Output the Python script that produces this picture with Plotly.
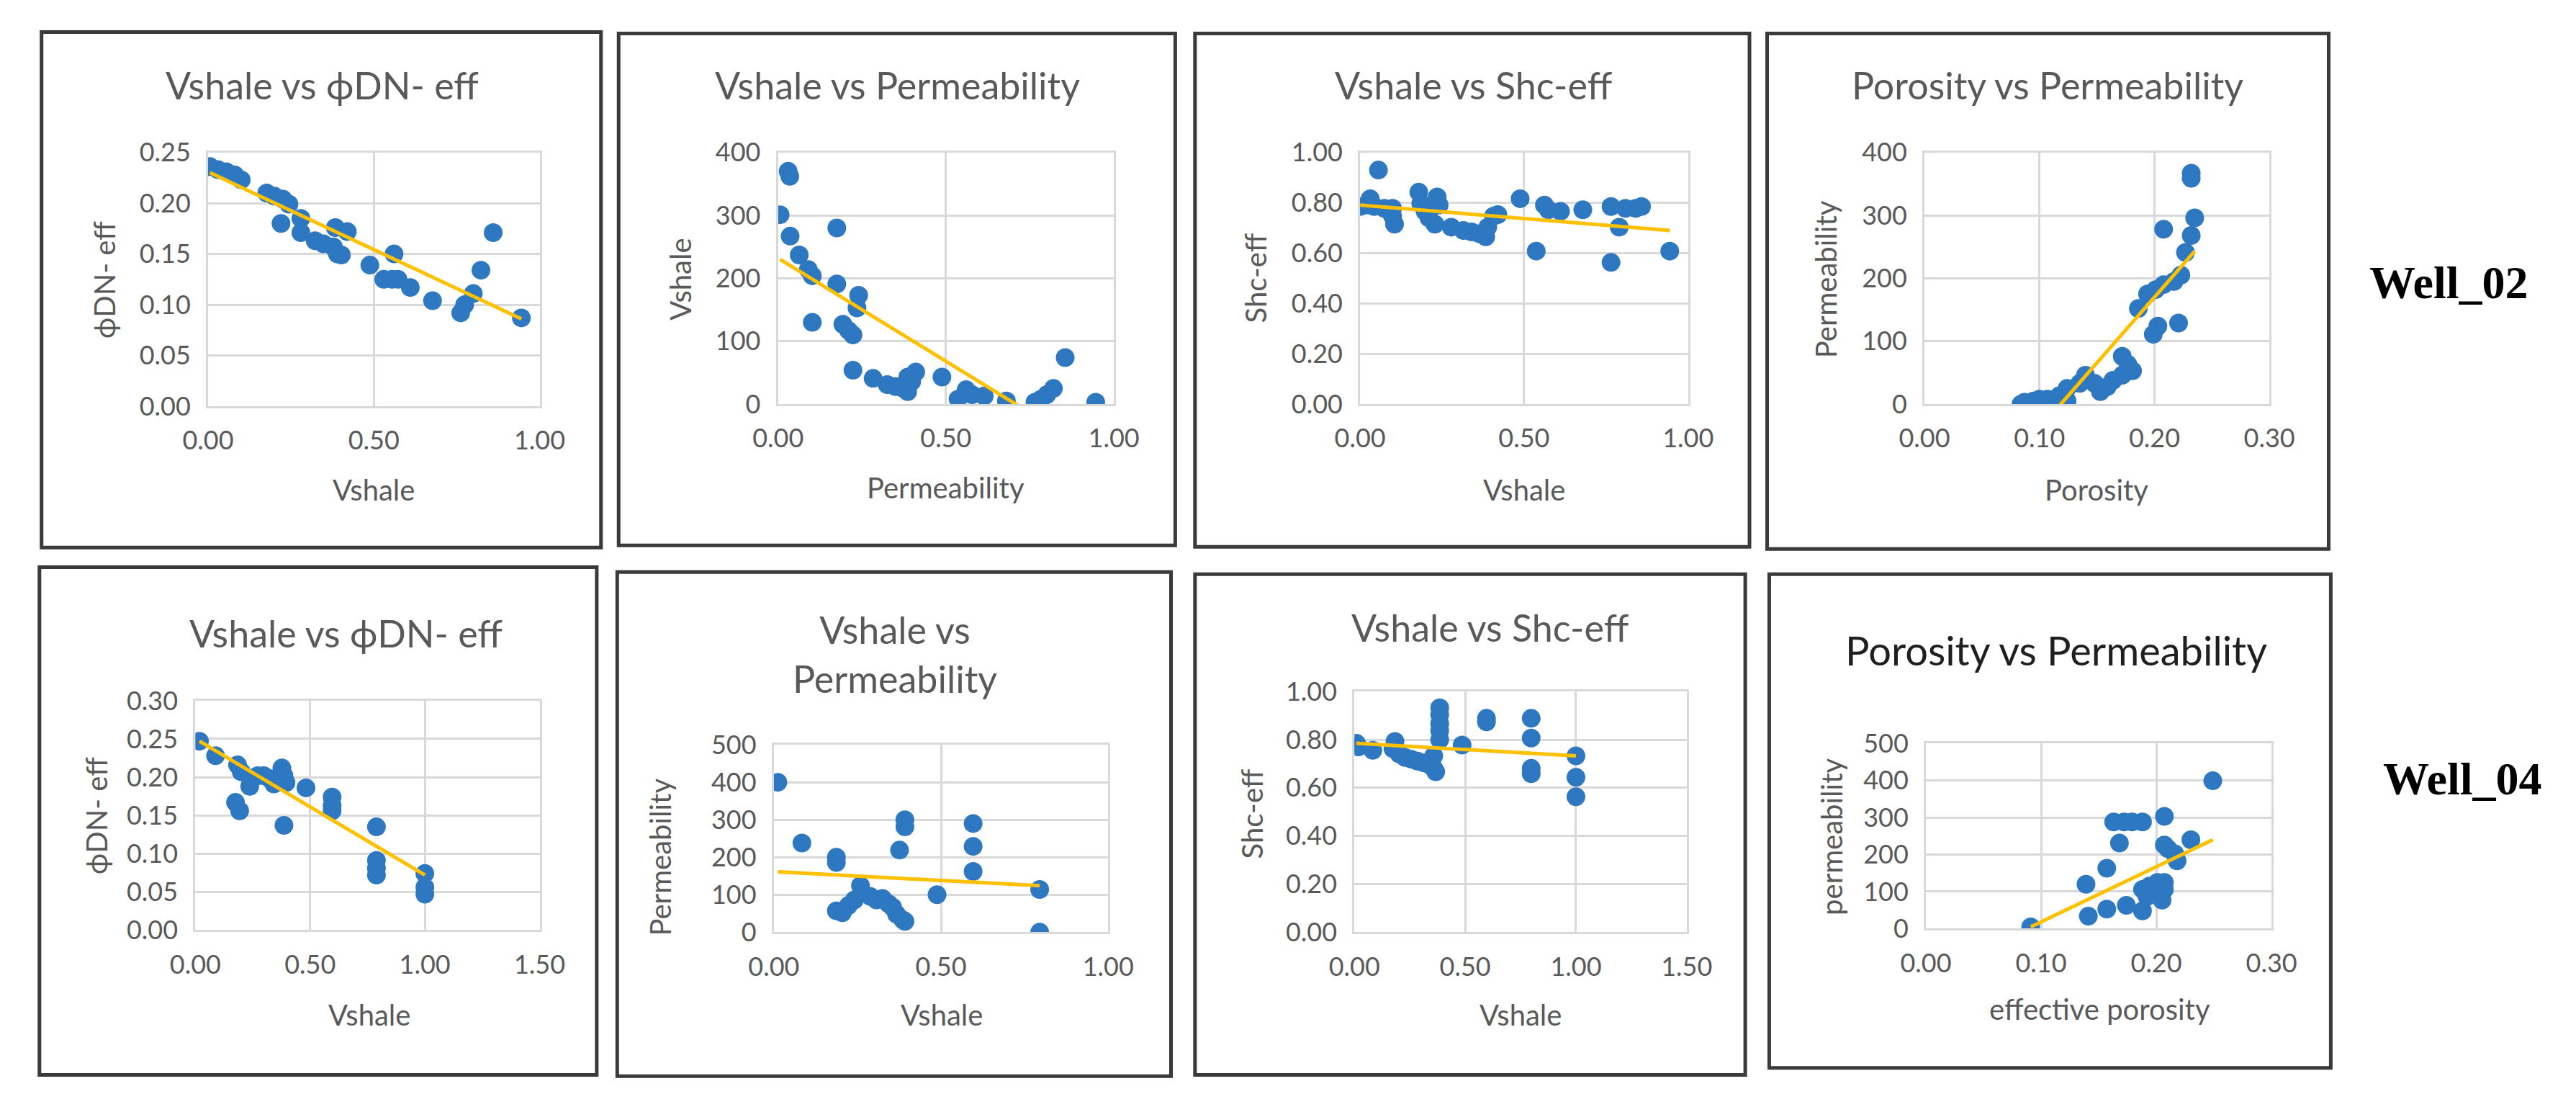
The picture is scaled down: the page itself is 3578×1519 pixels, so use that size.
import plotly.graph_objects as go

W, H = 3578, 1519

# ---- data ----
# Well_02
w02_vsh_phi_x = [0.006, 0.03, 0.055, 0.08, 0.10, 0.177, 0.20, 0.226, 0.244, 0.22, 0.28, 0.28,
                 0.323, 0.348, 0.378, 0.39, 0.402, 0.384, 0.42, 0.488, 0.53, 0.555, 0.573,
                 0.561, 0.61, 0.677, 0.762, 0.774, 0.80, 0.823, 0.86, 0.945]
w02_vsh_phi_y = [0.236, 0.233, 0.231, 0.228, 0.223, 0.210, 0.207, 0.204, 0.199, 0.180, 0.185, 0.171,
                 0.163, 0.160, 0.157, 0.150, 0.149, 0.176, 0.172, 0.139, 0.125, 0.125, 0.125,
                 0.150, 0.117, 0.104, 0.092, 0.100, 0.111, 0.134, 0.171, 0.087]
w02_vsh_phi_trend_x = [0.006, 0.945]
w02_vsh_phi_trend_y = [0.230, 0.086]

w02_vsh_perm_x = [0.03, 0.035, 0.006, 0.036, 0.063, 0.09, 0.102, 0.175, 0.175, 0.24, 0.235, 0.102,
                  0.193, 0.21, 0.223, 0.223, 0.283, 0.325, 0.35, 0.373, 0.386, 0.398, 0.41, 0.386,
                  0.488, 0.536, 0.56, 0.578, 0.614, 0.68, 0.765, 0.783, 0.80, 0.82, 0.855, 0.946]
w02_vsh_perm_y = [370, 362, 301, 267, 237, 214, 204, 280, 191, 173, 153, 130,
                  127, 117, 110, 54, 41, 31, 28, 25, 20, 36, 51, 43,
                  43, 8, 23, 15, 13, 5, 3, 8, 15, 25, 74, 3]
w02_vsh_perm_trend_x = [0.006, 0.946]
w02_vsh_perm_trend_y = [230, -78]

w02_vsh_shc_x = [0.0, 0.019, 0.031, 0.043, 0.056, 0.074, 0.099, 0.105, 0.099, 0.179, 0.185, 0.198,
                 0.21, 0.228, 0.235, 0.241, 0.278, 0.315, 0.34, 0.364, 0.383, 0.389, 0.407, 0.42,
                 0.488, 0.537, 0.562, 0.574, 0.611, 0.679, 0.765, 0.765, 0.79, 0.809, 0.84, 0.858,
                 0.944]
w02_vsh_shc_y = [0.785, 0.791, 0.816, 0.785, 0.930, 0.778, 0.778, 0.715, 0.747, 0.842, 0.797, 0.766,
                 0.740, 0.715, 0.823, 0.791, 0.703, 0.690, 0.684, 0.677, 0.665, 0.703, 0.747, 0.753,
                 0.816, 0.608, 0.791, 0.772, 0.766, 0.772, 0.785, 0.563, 0.703, 0.778, 0.778, 0.785,
                 0.608]
w02_vsh_shc_trend_x = [0.0, 0.944]
w02_vsh_shc_trend_y = [0.791, 0.690]

w02_por_perm_x = [0.232, 0.232, 0.235, 0.208, 0.232, 0.227, 0.223, 0.217, 0.208, 0.201, 0.194, 0.186,
                  0.221, 0.203, 0.199, 0.172, 0.177, 0.181, 0.172, 0.164, 0.159, 0.153, 0.148, 0.14,
                  0.135, 0.124, 0.124, 0.117, 0.107, 0.10, 0.095, 0.087, 0.084]
w02_por_perm_y = [367, 359, 296, 278, 268, 241, 205, 195, 190, 182, 175, 152,
                  129, 124, 111, 76, 63, 53, 46, 38, 28, 20, 33, 46,
                  33, 25, 5, 13, 8, 8, 5, 3, 0]
w02_por_perm_trend_x = [0.084, 0.235]
w02_por_perm_trend_y = [-72, 243]

# Well_04
w04_vsh_phi_x = [0.018, 0.088, 0.184, 0.20, 0.246, 0.237, 0.272, 0.298, 0.325, 0.342, 0.377, 0.386,
                 0.395, 0.377, 0.175, 0.193, 0.386, 0.482, 0.596, 0.596, 0.596, 0.789, 0.789,
                 0.789, 0.789, 1.0, 1.0, 1.0]
w04_vsh_phi_y = [0.247, 0.228, 0.216, 0.207, 0.198, 0.188, 0.202, 0.202, 0.198, 0.191, 0.212, 0.202,
                 0.193, 0.207, 0.167, 0.156, 0.137, 0.186, 0.174, 0.163, 0.156, 0.135, 0.091,
                 0.081, 0.072, 0.074, 0.056, 0.047]
w04_vsh_phi_trend_x = [0.018, 1.0]
w04_vsh_phi_trend_y = [0.247, 0.072]

w04_vsh_perm_x = [0.012, 0.084, 0.187, 0.187, 0.187, 0.205, 0.223, 0.241, 0.259, 0.265, 0.289, 0.307,
                  0.325, 0.343, 0.355, 0.367, 0.386, 0.392, 0.392, 0.392, 0.376, 0.488, 0.596,
                  0.596, 0.596, 0.795, 0.795]
w04_vsh_perm_y = [400, 238, 200, 186, 57, 52, 71, 86, 124, 105, 95, 86,
                  90, 76, 67, 48, 33, 29, 300, 281, 219, 100, 290,
                  229, 162, 114, 0]
w04_vsh_perm_trend_x = [0.012, 0.795]
w04_vsh_perm_trend_y = [161, 124]

w04_vsh_shc_x = [0.009, 0.018, 0.083, 0.183, 0.174, 0.202, 0.229, 0.257, 0.284, 0.312, 0.339, 0.358,
                 0.367, 0.385, 0.385, 0.385, 0.385, 0.385, 0.358, 0.486, 0.596, 0.596, 0.798,
                 0.798, 0.798, 0.798, 1.0, 1.0, 1.0]
w04_vsh_shc_y = [0.785, 0.770, 0.756, 0.793, 0.763, 0.741, 0.726, 0.719, 0.711, 0.704, 0.696, 0.681,
                 0.667, 0.933, 0.904, 0.867, 0.837, 0.800, 0.733, 0.778, 0.889, 0.874, 0.889,
                 0.807, 0.681, 0.659, 0.733, 0.644, 0.563]
w04_vsh_shc_trend_x = [0.009, 1.0]
w04_vsh_shc_trend_y = [0.785, 0.733]

w04_por_perm_x = [0.091, 0.139, 0.141, 0.157, 0.157, 0.163, 0.168, 0.172, 0.174, 0.179, 0.188, 0.188,
                  0.188, 0.192, 0.194, 0.197, 0.201, 0.205, 0.207, 0.207, 0.207, 0.207, 0.21,
                  0.216, 0.218, 0.23, 0.249]
w04_por_perm_y = [5, 120, 34, 163, 53, 288, 231, 288, 63, 288, 288, 48,
                  106, 87, 115, 96, 125, 77, 303, 226, 125, 106, 216,
                  202, 183, 240, 399]
w04_por_perm_trend_x = [0.091, 0.249]
w04_por_perm_trend_y = [5, 240]

# ---- panel setup ----
# (x data, y data, trend x, trend y, title, x title, y title, x range, x dtick, y range, y dtick, y fmt)
panels = [
    (w02_vsh_phi_x, w02_vsh_phi_y, w02_vsh_phi_trend_x, w02_vsh_phi_trend_y,
     "Vshale vs ϕDN- eff", "Vshale", "ϕDN- eff", [0, 1], 0.5, [0, 0.25], 0.05, ".2f"),
    (w02_vsh_perm_x, w02_vsh_perm_y, w02_vsh_perm_trend_x, w02_vsh_perm_trend_y,
     "Vshale vs Permeability", "Permeability", "Vshale", [0, 1], 0.5, [0, 400], 100, "d"),
    (w02_vsh_shc_x, w02_vsh_shc_y, w02_vsh_shc_trend_x, w02_vsh_shc_trend_y,
     "Vshale vs Shc-eff", "Vshale", "Shc-eff", [0, 1], 0.5, [0, 1], 0.2, ".2f"),
    (w02_por_perm_x, w02_por_perm_y, w02_por_perm_trend_x, w02_por_perm_trend_y,
     "Porosity vs Permeability", "Porosity", "Permeability", [0, 0.3], 0.1, [0, 400], 100, "d"),
    (w04_vsh_phi_x, w04_vsh_phi_y, w04_vsh_phi_trend_x, w04_vsh_phi_trend_y,
     "Vshale vs ϕDN- eff", "Vshale", "ϕDN- eff", [0, 1.5], 0.5, [0, 0.30], 0.05, ".2f"),
    (w04_vsh_perm_x, w04_vsh_perm_y, w04_vsh_perm_trend_x, w04_vsh_perm_trend_y,
     "Vshale vs<br>Permeability", "Vshale", "Permeability", [0, 1], 0.5, [0, 500], 100, "d"),
    (w04_vsh_shc_x, w04_vsh_shc_y, w04_vsh_shc_trend_x, w04_vsh_shc_trend_y,
     "Vshale vs Shc-eff", "Vshale", "Shc-eff", [0, 1.5], 0.5, [0, 1], 0.2, ".2f"),
    (w04_por_perm_x, w04_por_perm_y, w04_por_perm_trend_x, w04_por_perm_trend_y,
     "Porosity vs Permeability", "effective porosity", "permeability", [0, 0.3], 0.1, [0, 500], 100, "d"),
]

# pixel geometry: plot area (x0, x1, y0, y1), frame box, title centre, x-title centre, y-title centre
geom = [
    dict(plot=(250, 720, 186, 549), box=(14, 807, 14, 751), title=(412, 90), xt=(485, 668), yt=(103, 368)),
    dict(plot=(1058, 1534, 186, 546), box=(832, 1621, 16, 748), title=(1227, 90), xt=(1296, 665), yt=(920, 367)),
    dict(plot=(1883, 2348, 186, 546), box=(1649, 2435, 16, 750), title=(2044, 90), xt=(2116, 668), yt=(1735, 366)),
    dict(plot=(2683, 3172, 186, 546), box=(2460, 3256, 16, 753), title=(2858, 90), xt=(2927, 668), yt=(2544, 367)),
    dict(plot=(232, 720, 970, 1298), box=(11, 801, 779, 1505), title=(445, 873), xt=(479, 1419), yt=(92, 1135)),
    dict(plot=(1052, 1526, 1033, 1301), box=(830, 1615, 786, 1507), title=(1224, 903), xt=(1290, 1419), yt=(891, 1194)),
    dict(plot=(1875, 2346, 957, 1301), box=(1649, 2429, 789, 1505), title=(2068, 865), xt=(2110, 1419), yt=(1730, 1132)),
    dict(plot=(2685, 3175, 1031, 1296), box=(2463, 3259, 789, 1495), title=(2870, 898), xt=(2931, 1411), yt=(2552, 1165)),
]

FONT = "Lato"
GREY = "#595959"
BLUE = "#2E78C2"
GOLD = "#FFC000"
GRID = "#D9D9D9"


def fx(x):
    return x / W


def fy(y):
    return 1 - y / H


fig = go.Figure()
annotations = []
shapes = []

for i, (p, g) in enumerate(zip(panels, geom), start=1):
    xs, ys, tx, ty, title, xtitle, ytitle, xr, xdt, yr, ydt, yfmt = p
    xa = "x" if i == 1 else f"x{i}"
    ya = "y" if i == 1 else f"y{i}"

    fig.add_trace(go.Scatter(x=xs, y=ys, mode="markers", xaxis=xa, yaxis=ya,
                             marker=dict(size=26, color=BLUE), showlegend=False))
    fig.add_trace(go.Scatter(x=tx, y=ty, mode="lines", xaxis=xa, yaxis=ya,
                             line=dict(color=GOLD, width=5), showlegend=False))

    x0, x1, y0, y1 = g["plot"]
    common = dict(showgrid=True, gridcolor=GRID, gridwidth=3, zeroline=False,
                  showline=True, linecolor=GRID, linewidth=3, mirror=True,
                  ticks="", tickfont=dict(family=FONT, size=36, color=GREY),
                  fixedrange=True)
    fig.layout[f"xaxis{'' if i == 1 else i}"] = dict(
        domain=[fx(x0), fx(x1)], anchor=ya, range=xr, dtick=xdt, tick0=0,
        tickformat=".2f", ticklabelstandoff=14, **common)
    fig.layout[f"yaxis{'' if i == 1 else i}"] = dict(
        domain=[fy(y1), fy(y0)], anchor=xa, range=yr, dtick=ydt, tick0=0,
        tickformat=yfmt, ticklabelstandoff=14, **common)

    title_color = "#1F1F1F" if i == 8 else GREY
    title_size = 56 if i == 8 else 52
    annotations.append(dict(x=fx(g["title"][0]), y=fy(g["title"][1]), xref="paper", yref="paper",
                            text=title, showarrow=False, xanchor="center", yanchor="middle",
                            font=dict(family=FONT, size=title_size, color=title_color)))
    annotations.append(dict(x=fx(g["xt"][0]), y=fy(g["xt"][1]), xref="paper", yref="paper",
                            text=xtitle, showarrow=False, xanchor="center", yanchor="middle",
                            font=dict(family=FONT, size=40, color=GREY)))
    annotations.append(dict(x=fx(g["yt"][0]), y=fy(g["yt"][1]), xref="paper", yref="paper",
                            text=ytitle, showarrow=False, xanchor="center", yanchor="middle",
                            textangle=-90, font=dict(family=FONT, size=40, color=GREY)))

    bx0, bx1, by0, by1 = g["box"]
    shapes.append(dict(type="rect", xref="paper", yref="paper",
                       x0=fx(bx0), x1=fx(bx1), y0=fy(by1), y1=fy(by0),
                       line=dict(color="#3A3A3A", width=5)))

for text, cx, cy in [("Well_02", 3426, 372), ("Well_04", 3445, 1082)]:
    annotations.append(dict(x=fx(cx), y=fy(cy), xref="paper", yref="paper", text=f"<b>{text}</b>",
                            showarrow=False, xanchor="center", yanchor="middle",
                            font=dict(family="Liberation Serif", size=64, color="black")))

fig.update_layout(width=W, height=H, margin=dict(l=0, r=0, t=0, b=0),
                  paper_bgcolor="white", plot_bgcolor="white",
                  annotations=annotations, shapes=shapes, showlegend=False)

fig.write_html("out.html", config={"displayModeBar": False})
